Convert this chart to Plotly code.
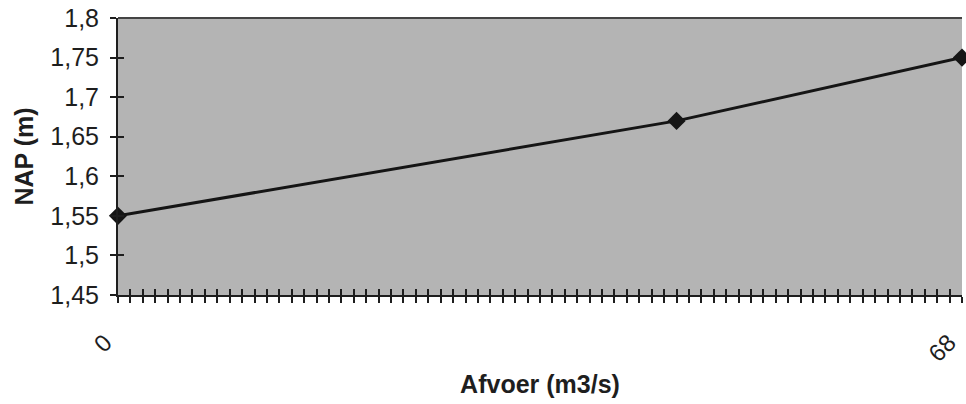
import plotly.graph_objects as go

# Data
afvoer = [0, 45, 68]            # m3/s
nap = [1.55, 1.67, 1.75]        # m
x_tick_positions = [0, 68]
x_tick_labels = ["0", "68"]
y_tick_values = [1.45, 1.5, 1.55, 1.6, 1.65, 1.7, 1.75, 1.8]
x_minor_ticks = list(range(0, 69))

FONT = "Arial, Liberation Sans, sans-serif"

fig = go.Figure()
fig.add_trace(go.Scatter(
    x=afvoer, y=nap, mode="lines+markers",
    line=dict(color="#151515", width=3),
    marker=dict(symbol="diamond", size=14, color="#151515"),
    cliponaxis=False, showlegend=False,
))
# invisible trace for overlay axis (inside ticks)
fig.add_trace(go.Scatter(x=afvoer, y=nap, xaxis="x2", yaxis="y2",
                         mode="markers", marker=dict(opacity=0),
                         showlegend=False, hoverinfo="skip"))

fig.update_layout(
    width=966, height=404,
    margin=dict(l=118, r=4, t=18, b=109),
    paper_bgcolor="white",
    plot_bgcolor="#b4b4b4",
    separators=", ",
    font=dict(family=FONT, color="#1e1e1e", size=24),
    xaxis=dict(
        range=[0, 68], tickmode="array",
        tickvals=x_minor_ticks,
        ticktext=[x_tick_labels[x_tick_positions.index(v)] if v in x_tick_positions else "" for v in x_minor_ticks],
        tickangle=-45, ticks="outside", ticklen=6, tickwidth=1.5, tickcolor="#1e1e1e",
        showline=True, linecolor="#1e1e1e", linewidth=2, showgrid=False, zeroline=False,
        mirror=False, ticklabelstandoff=16, ticklabelshift=-13,
        ticklabeloverflow="allow",
        tickfont=dict(size=24),
        title=dict(text="<b>Afvoer (m3/s)</b>", font=dict(size=25), standoff=10),
    ),
    yaxis=dict(
        range=[1.45, 1.8], tickmode="array", tickvals=y_tick_values,
        ticks="outside", ticklen=6, tickwidth=1.5, tickcolor="#1e1e1e",
        showline=True, linecolor="#1e1e1e", linewidth=2, showgrid=False, zeroline=False,
        tickfont=dict(size=25), ticklabelstandoff=6,
        title=dict(text="<b>NAP (m)</b>", font=dict(size=25), standoff=10),
    ),
    xaxis2=dict(range=[0, 68], overlaying="x", tickmode="array", tickvals=x_minor_ticks,
                ticks="inside", ticklen=6, tickwidth=1.5, tickcolor="#1e1e1e",
                showticklabels=False, showgrid=False, zeroline=False, side="bottom",
                showline=False),
    yaxis2=dict(range=[1.45, 1.8], overlaying="y", tickmode="array", tickvals=y_tick_values,
                ticks="inside", ticklen=6, tickwidth=1.5, tickcolor="#1e1e1e",
                showticklabels=False, showgrid=False, zeroline=False, side="left",
                showline=False),
    shapes=[dict(type="line", xref="paper", yref="paper", x0=0, x1=1, y0=1, y1=1,
                 line=dict(color="#444444", width=2))],
)

fig.write_html("out.html")
